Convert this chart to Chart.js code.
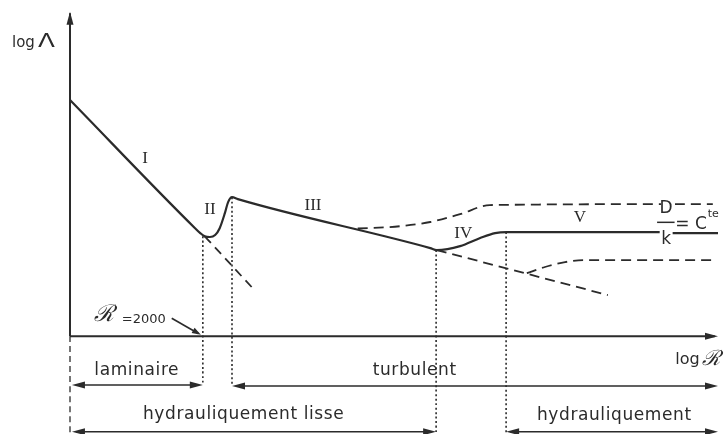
<!DOCTYPE html>
<html>
<head>
<meta charset="utf-8">
<script src="https://cdn.jsdelivr.net/npm/chart.js@4"></script>
<style>
  html, body { margin: 0; padding: 0; background: #fff; }
  #wrap { width: 728px; height: 434px; }
</style>
</head>
<body>
<div id="wrap"><canvas id="diagram"></canvas></div>
<script>
// log R along x (0..10), log Lambda along y (-3..10); y < 0 holds the regime bands
const mainCurve = [
  [0, 7.24], [1.93, 3.31], [2.01, 3.16], [2.08, 3.06], [2.16, 3.04], [2.24, 3.10],
  [2.31, 3.31], [2.39, 3.77], [2.44, 4.11], [2.50, 4.26], [2.59, 4.20],
  [5.56, 2.70], [5.66, 2.64], [6.02, 2.76], [6.33, 3.01], [6.56, 3.16], [6.74, 3.19],
  [9.10, 3.19], [9.10, null], [9.30, 3.16], [10, 3.16]
];
const laminarExt = [[2.08, 3.06], [2.82, 1.47]];
const roughUpper = [[4.44, 3.30], [5.09, 3.37], [5.56, 3.50], [6.02, 3.74], [6.48, 4.02], [9.92, 4.05]];
const smoothExt = [[5.66, 2.64], [8.30, 1.26]];
const roughLower = [[7.05, 1.93], [7.33, 2.12], [7.64, 2.27], [7.92, 2.33], [9.95, 2.33]];
const limits = [[2.05, 3.06, -1.5], [2.50, 4.26, -1.5], [5.65, 2.64, -3], [6.73, 3.19, -3]];

const regimes = ['laminaire', 'turbulent', 'hydrauliquement lisse', 'hydrauliquement'];
const regimeSpans = [[0.03, 2.05, -1.50], [2.50, 10, -1.53], [0.03, 5.65, -2.93], [6.73, 10, -2.93]];
const regimeLabelPos = [[1.03, -1.05], [5.32, -1.05], [2.68, -2.40], [8.40, -2.43]];

const zones = ['I', 'II', 'III', 'IV', 'V'];
const zonePos = [[1.16, 5.46], [2.16, 3.87], [3.75, 4.02], [6.07, 3.14], [7.87, 3.65]];

const ink = '#2b2b2b';
const toPts = arr => arr.map(p => ({ x: p[0], y: p[1] }));

function lineSet(pts, dash, width) {
  return {
    data: toPts(pts), showLine: true, borderColor: ink, borderWidth: width,
    borderDash: dash, pointRadius: 0, cubicInterpolationMode: 'monotone',
    spanGaps: false, clip: false
  };
}

const datasets = [
  lineSet(mainCurve, [], 2.2),
  lineSet(laminarExt, [9, 6], 1.8),
  lineSet(roughUpper, [10, 6], 1.8),
  lineSet(smoothExt, [10, 6], 1.8),
  lineSet(roughLower, [10, 6], 1.8),
  lineSet([[0, 0], [0, -3]], [6, 4], 1.3)
];
limits.forEach(l => datasets.push(lineSet([[l[0], l[1]], [l[0], l[2]]], [2, 2.5], 1.6)));

function arrowHead(ctx, x, y, dir, vertical) {
  ctx.beginPath();
  if (vertical) {
    ctx.moveTo(x, y);
    ctx.lineTo(x - 3.5, y + 13);
    ctx.lineTo(x + 3.5, y + 13);
  } else {
    ctx.moveTo(x, y);
    ctx.lineTo(x - dir * 13, y - 3.5);
    ctx.lineTo(x - dir * 13, y + 3.5);
  }
  ctx.closePath();
  ctx.fill();
}

const annotations = {
  id: 'annotations',
  afterDatasetsDraw(chart) {
    const { ctx, scales: { x, y } } = chart;
    const X = v => x.getPixelForValue(v);
    const Y = v => y.getPixelForValue(v);
    ctx.save();
    ctx.strokeStyle = ink;
    ctx.fillStyle = ink;
    ctx.lineWidth = 2;

    // axes
    ctx.beginPath();
    ctx.moveTo(X(0), Y(0)); ctx.lineTo(X(0), Y(9.9));
    ctx.moveTo(X(0), Y(0)); ctx.lineTo(X(9.95), Y(0));
    ctx.stroke();
    arrowHead(ctx, X(0), Y(9.95), 0, true);
    arrowHead(ctx, X(10), Y(0), 1, false);

    // regime bands with double arrows
    ctx.lineWidth = 1.5;
    regimeSpans.forEach(s => {
      const y0 = Y(s[2]);
      ctx.beginPath();
      ctx.moveTo(X(s[0]) + 4, y0); ctx.lineTo(X(s[1]) - 4, y0);
      ctx.stroke();
      arrowHead(ctx, X(s[0]), y0, -1, false);
      arrowHead(ctx, X(s[1]), y0, 1, false);
    });

    ctx.textAlign = 'center';
    ctx.textBaseline = 'middle';
    ctx.font = '17px "DejaVu Sans"';
    ctx.letterSpacing = '0.6px';
    regimes.forEach((t, i) => ctx.fillText(t, X(regimeLabelPos[i][0]), Y(regimeLabelPos[i][1])));
    ctx.letterSpacing = '0px';

    ctx.font = '17px "Liberation Serif"';
    zones.forEach((t, i) => ctx.fillText(t, X(zonePos[i][0]), Y(zonePos[i][1])));

    // axis titles
    ctx.textAlign = 'left';
    ctx.font = '15px "DejaVu Sans"';
    ctx.fillText('log', 12, Y(8.99));
    ctx.save();
    ctx.translate(38, Y(9.02));
    ctx.scale(1.3, 1);
    ctx.font = '19px "DejaVu Sans ExtraLight", "DejaVu Sans"';
    ctx.fillText('\u039B', 0, 0);
    ctx.restore();

    ctx.font = '16px "DejaVu Sans"';
    ctx.fillText('log', X(9.34), Y(-0.73));
    ctx.font = 'italic 21px "DejaVu Serif"';
    ctx.fillText('\u211B', X(9.76), Y(-0.73));

    // R = 2000 marker
    ctx.font = 'italic 23px "DejaVu Serif"';
    ctx.fillText('\u211B', X(0.37), Y(0.66));
    ctx.font = '13px "DejaVu Sans"';
    ctx.fillText('=2000', X(0.80), Y(0.52));
    ctx.lineWidth = 1.6;
    ctx.beginPath();
    ctx.moveTo(X(1.57), Y(0.55)); ctx.lineTo(X(1.98), Y(0.08));
    ctx.stroke();
    ctx.save();
    ctx.translate(X(2.02), Y(0.04));
    ctx.rotate(Math.atan2(Y(0.08) - Y(0.55), X(1.98) - X(1.57)));
    ctx.beginPath();
    ctx.moveTo(0, 0); ctx.lineTo(-9, -3); ctx.lineTo(-9, 3);
    ctx.closePath();
    ctx.fill();
    ctx.restore();

    // D/k = Cte
    ctx.fillStyle = '#fff';
    ctx.fillRect(X(9.12), Y(4.32), 14, 14);
    ctx.fillStyle = ink;
    ctx.textAlign = 'center';
    ctx.font = '17px "DejaVu Sans"';
    ctx.fillText('D', X(9.2), Y(3.9));
    ctx.fillText('k', X(9.2), Y(2.95));
    ctx.lineWidth = 1.5;
    ctx.beginPath();
    ctx.moveTo(X(9.06), Y(3.49)); ctx.lineTo(X(9.33), Y(3.49));
    ctx.stroke();
    ctx.textAlign = 'left';
    ctx.fillText('= C', X(9.34), Y(3.42));
    ctx.font = '11px "DejaVu Sans"';
    ctx.fillText('te', X(9.84), Y(3.75));
    ctx.restore();
  }
};

new Chart(document.getElementById('diagram'), {
  type: 'scatter',
  data: { datasets: datasets },
  options: {
    responsive: true,
    maintainAspectRatio: false,
    animation: false,
    layout: { padding: { left: 70, right: 10, top: 10, bottom: 0 } },
    plugins: { legend: { display: false }, tooltip: { enabled: false } },
    scales: {
      x: { type: 'linear', min: 0, max: 10, display: false },
      y: { type: 'linear', min: -3, max: 10, display: false }
    }
  },
  plugins: [annotations]
});
</script>
</body>
</html>
